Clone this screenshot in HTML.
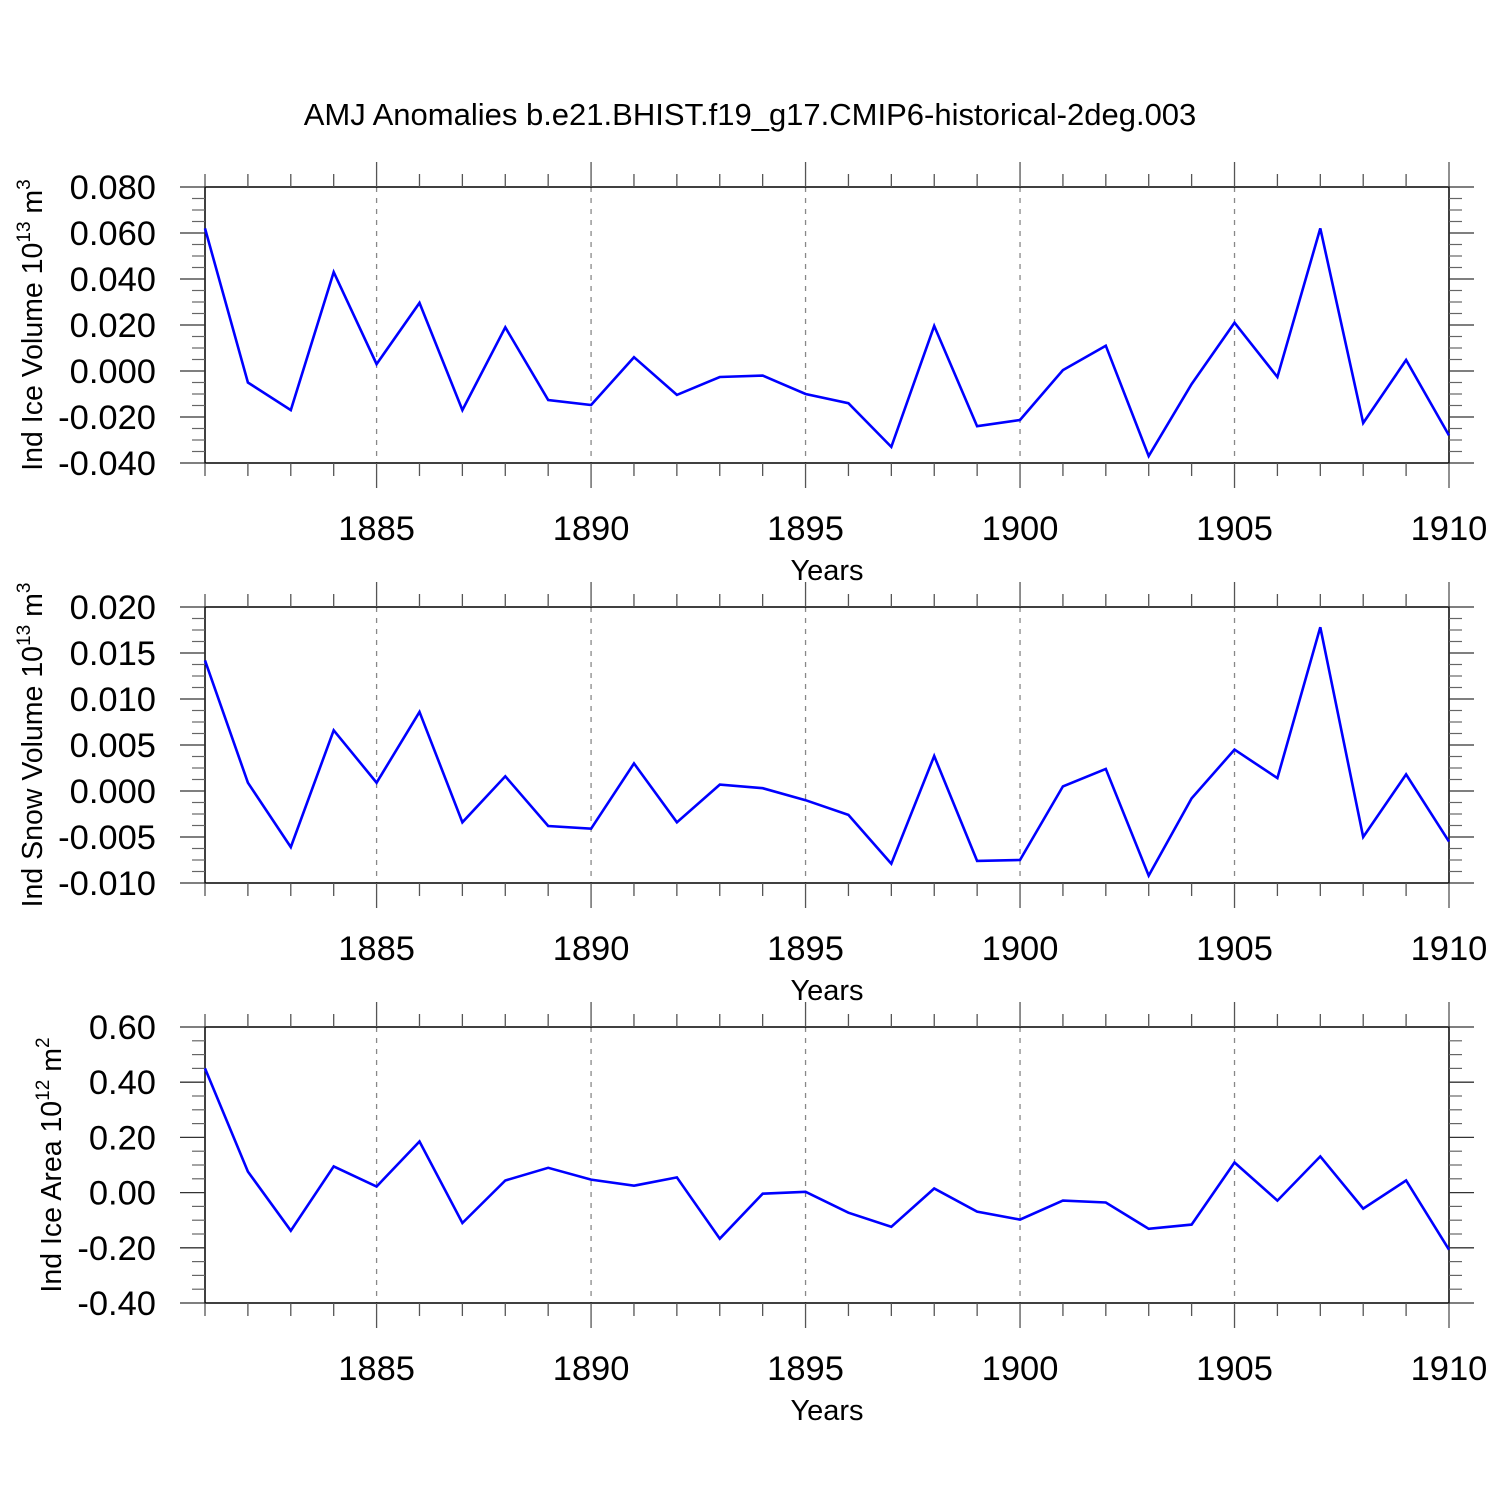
<!DOCTYPE html>
<html><head><meta charset="utf-8"><style>
html,body{margin:0;padding:0;background:#fff;}
svg{display:block;font-family:"Liberation Sans",sans-serif;}
</style></head><body>
<svg id="chart" width="1500" height="1500" viewBox="0 0 1500 1500" xmlns="http://www.w3.org/2000/svg">
<rect width="1500" height="1500" fill="#fff"/>
<text x="750" y="125" font-size="31" text-anchor="middle">AMJ Anomalies b.e21.BHIST.f19_g17.CMIP6-historical-2deg.003</text>
</svg>
<script>
const years = [1881,1882,1883,1884,1885,1886,1887,1888,1889,1890,1891,1892,1893,1894,1895,1896,1897,1898,1899,1900,1901,1902,1903,1904,1905,1906,1907,1908,1909,1910];
const iceVolume = [0.062,-0.005,-0.017,0.043,0.003,0.0296,-0.017,0.019,-0.0126,-0.0148,0.006,-0.0104,-0.0026,-0.002,-0.010,-0.014,-0.033,0.0196,-0.024,-0.0213,0.0004,0.011,-0.037,-0.0057,0.021,-0.0026,0.062,-0.0226,0.0048,-0.028];
const snowVolume = [0.0142,0.0009,-0.0061,0.0066,0.0009,0.0086,-0.0034,0.0016,-0.0038,-0.0041,0.0030,-0.0034,0.0007,0.0003,-0.0010,-0.0026,-0.0079,0.0038,-0.0076,-0.0075,0.0005,0.0024,-0.0092,-0.0008,0.0045,0.0014,0.0178,-0.0050,0.0018,-0.0055];
const iceArea = [0.45,0.076,-0.138,0.095,0.022,0.185,-0.11,0.044,0.09,0.047,0.025,0.055,-0.167,-0.004,0.003,-0.073,-0.124,0.015,-0.069,-0.098,-0.029,-0.036,-0.131,-0.116,0.109,-0.029,0.131,-0.058,0.044,-0.207];
const iceVolTicks = ["-0.040","-0.020","0.000","0.020","0.040","0.060","0.080"];
const snowVolTicks = ["-0.010","-0.005","0.000","0.005","0.010","0.015","0.020"];
const iceAreaTicks = ["-0.40","-0.20","0.00","0.20","0.40","0.60"];
const xTickLabels = ["1885","1890","1895","1900","1905","1910"];

const NS="http://www.w3.org/2000/svg";
const svg=document.getElementById('chart');
function mk(tag,attrs,parent){const e=document.createElementNS(NS,tag);for(const k in attrs)e.setAttribute(k,attrs[k]);(parent||svg).appendChild(e);return e;}
const L=205,R=1449,H=276;
const panels=[
 {top:187,vals:iceVolume,ticks:iceVolTicks,title:"Ind Ice Volume 10",sup:"13",unit:" m",usup:"3",tx:42,name:"ice-volume"},
 {top:607,vals:snowVolume,ticks:snowVolTicks,title:"Ind Snow Volume 10",sup:"13",unit:" m",usup:"3",tx:42,name:"snow-volume"},
 {top:1027,vals:iceArea,ticks:iceAreaTicks,title:"Ind Ice Area 10",sup:"12",unit:" m",usup:"2",tx:61,name:"ice-area"}
];
panels.forEach(p=>{
 const g=mk('g',{});
 
 
 const tv=p.ticks.map(Number);
 const ymin=tv[0],ymax=tv[tv.length-1];
 const bot=p.top+H;
 const ys=v=>bot-(v-ymin)/(ymax-ymin)*H;
 const xs=yr=>L+(yr-years[0])/(years[years.length-1]-years[0])*(R-L);
 xTickLabels.forEach(t=>{const x=xs(+t);if(x<R-1){const gl=mk('line',{x1:x,x2:x,y1:p.top,y2:bot,stroke:'#888','stroke-width':1.3,'stroke-dasharray':'5,6'},g);}});
 const fr=mk('rect',{x:L,y:p.top,width:R-L,height:H,fill:'none',stroke:'#000','stroke-width':1.5},g);
 
 years.forEach(yr=>{const x=xs(yr);const major=yr%5===0;const len=major?25:13;
  mk('line',{x1:x,x2:x,y1:p.top-len,y2:p.top,stroke:'#555','stroke-width':1.3},g);
  mk('line',{x1:x,x2:x,y1:bot,y2:bot+len,stroke:'#555','stroke-width':1.3},g);});
 const step=tv[1]-tv[0];
 for(let i=0;i<tv.length;i++){const y=ys(tv[i]);
  mk('line',{x1:L-25,x2:L,y1:y,y2:y,stroke:'#333','stroke-width':1.3},g);
  mk('line',{x1:R,x2:R+25,y1:y,y2:y,stroke:'#333','stroke-width':1.3},g);
  const lb=mk('text',{x:156,y:y+12,'font-size':34.5,'text-anchor':'end'},g);lb.textContent=p.ticks[i];
  
  if(i<tv.length-1)for(let m=1;m<4;m++){const ym=ys(tv[i]+step*m/4);
   mk('line',{x1:L-13,x2:L,y1:ym,y2:ym,stroke:'#666','stroke-width':1.2},g);
   mk('line',{x1:R,x2:R+13,y1:ym,y2:ym,stroke:'#666','stroke-width':1.2},g);}
 }
 xTickLabels.forEach(t=>{const lb=mk('text',{x:xs(+t),y:bot+77,'font-size':34.5,'text-anchor':'middle'},g);lb.textContent=t;
  });
 const xt=mk('text',{x:827,y:bot+117,'font-size':29,'text-anchor':'middle'},g);xt.textContent='Years';
 
 const yt=mk('text',{x:0,y:0,'font-size':28.5,'text-anchor':'middle',transform:`translate(${p.tx},${p.top+H/2}) rotate(-90)`},g);
 
 const a=mk('tspan',{},yt);a.textContent=p.title;
 const b=mk('tspan',{'font-size':19,dy:-12},yt);b.textContent=p.sup;
 const c=mk('tspan',{dy:12},yt);c.textContent=p.unit;
 const d=mk('tspan',{'font-size':19,dy:-12},yt);d.textContent=p.usup;
 const pts=p.vals.map((v,i)=>xs(years[i]).toFixed(1)+','+ys(v).toFixed(1)).join(' ');
 const ln=mk('polyline',{points:pts,fill:'none',stroke:'#0000ff','stroke-width':2.6,'stroke-linejoin':'miter'},g);
 
});
</script>
</body></html>
